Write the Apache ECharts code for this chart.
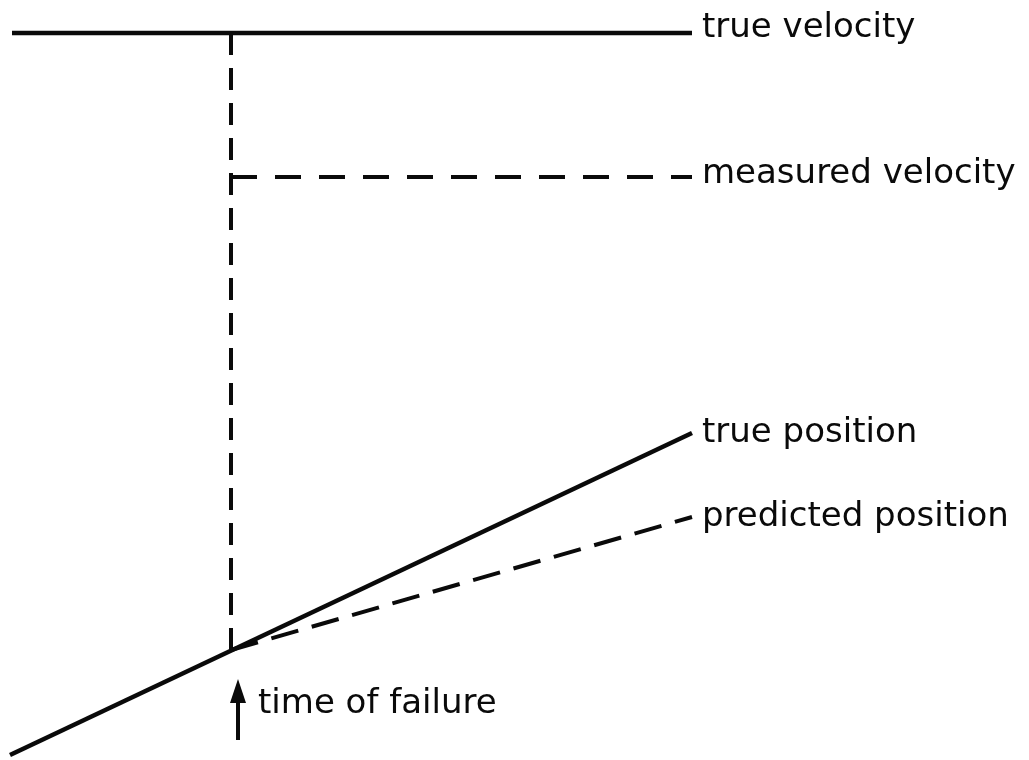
<!DOCTYPE html>
<html>
<head>
<meta charset="utf-8">
<title>time of failure</title>
<script src="https://cdn.jsdelivr.net/npm/echarts@6/dist/echarts.min.js"></script>
<style>
  html, body { margin: 0; padding: 0; background: #fff; }
  #main { width: 1029px; height: 760px; }
</style>
</head>
<body>
<div id="main"></div>
<script>
// 数据 (time on x, value on y; both in axis units)
var trueVelocity = [[12, 727], [692, 727]];
var failureMarker = [[231, 727], [231, 110]];
var measuredVelocity = [[231, 583], [692, 583]];
var truePosition = [[10, 5], [692, 327]];
var predictedPosition = [[231, 110], [692, 243]];
var failureArrow = [[238, 20], [238, 69]];

var labels = {
  trueVelocity: "true velocity",
  measuredVelocity: "measured velocity",
  truePosition: "true position",
  predictedPosition: "predicted position",
  failure: "time of failure"
};

var ink = "#0a0a0a";
var labelFont = {
  color: ink,
  fontFamily: "DejaVu Sans",
  fontSize: 34
};

function endLabel(text, dy) {
  return Object.assign({
    show: true,
    formatter: text,
    distance: 10,
    offset: [0, dy]
  }, labelFont);
}

var myChart = echarts.init(document.getElementById("main"));
var option = {
  animation: false,
  backgroundColor: "#fff",
  grid: { left: 0, right: 0, top: 0, bottom: 0 },
  xAxis: { type: "value", min: 0, max: 1029, show: false },
  yAxis: { type: "value", min: 0, max: 760, show: false },
  series: [
    {
      name: "true velocity",
      type: "line",
      data: trueVelocity,
      symbol: "none",
      lineStyle: { color: ink, width: 4.5 },
      endLabel: endLabel(labels.trueVelocity, -5)
    },
    {
      name: "failure",
      type: "line",
      data: failureMarker,
      symbol: "none",
      lineStyle: { color: ink, width: 4, type: [22, 13] }
    },
    {
      name: "measured velocity",
      type: "line",
      data: measuredVelocity,
      symbol: "none",
      lineStyle: { color: ink, width: 4, type: [26, 18] },
      endLabel: endLabel(labels.measuredVelocity, -3)
    },
    {
      name: "true position",
      type: "line",
      data: truePosition,
      symbol: "none",
      lineStyle: { color: ink, width: 4.5 },
      endLabel: endLabel(labels.truePosition, 0)
    },
    {
      name: "predicted position",
      type: "line",
      data: predictedPosition,
      symbol: "none",
      lineStyle: { color: ink, width: 4, type: [28, 14] },
      endLabel: endLabel(labels.predictedPosition, 0)
    },
    {
      name: "arrow",
      type: "line",
      data: [
        { value: failureArrow[0], symbol: "none" },
        {
          value: failureArrow[1],
          symbol: "triangle",
          symbolSize: [16, 24],
          itemStyle: { color: ink },
          label: Object.assign({
            show: true,
            position: "right",
            formatter: labels.failure,
            distance: 12,
            offset: [0, 13]
          }, labelFont)
        }
      ],
      lineStyle: { color: ink, width: 4 }
    }
  ]
};
myChart.setOption(option);
</script>
</body>
</html>
